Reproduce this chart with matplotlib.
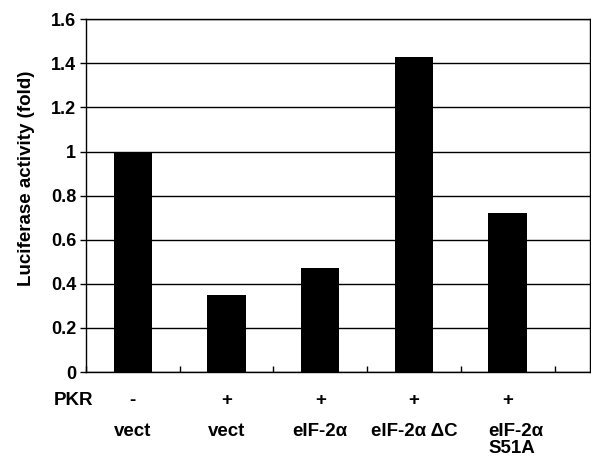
import matplotlib
matplotlib.use("Agg")
import matplotlib.pyplot as plt
from matplotlib.transforms import blended_transform_factory
import numpy as np

plt.rcParams['font.family'] = ['Liberation Sans', 'DejaVu Sans']
plt.rcParams['font.weight'] = 'bold'

pkr_labels = ['-', '+', '+', '+', '+']
construct_labels = ['vect', 'vect', 'eIF-2α', 'eIF-2α ΔC', 'eIF-2α\nS51A']
values = [1.0, 0.35, 0.47, 1.43, 0.72]
yticks = [0, 0.2, 0.4, 0.6, 0.8, 1, 1.2, 1.4, 1.6]
ytick_labels = ['0', '0.2', '0.4', '0.6', '0.8', '1', '1.2', '1.4', '1.6']

bar_width = 0.41

fig = plt.figure(figsize=(5.91, 4.68), dpi=100)
ax = fig.add_axes([0.1455, 0.205, 0.853, 0.754])

x = np.arange(len(values))
ax.set_axisbelow(True)
for yv in yticks:
    ax.axhline(yv, color='black', lw=1.0, zorder=0)
ax.bar(x, values, width=bar_width, color='black', zorder=2)

ax.set_xlim(-0.49, 4.88)
ax.set_ylim(0, 1.6)
ax.set_yticks(yticks)
ax.set_yticklabels(ytick_labels, fontsize=13, fontweight='bold')
ax.tick_params(axis='y', direction='out', length=4, width=1, pad=3)
ax.set_xticks([])
ax.set_xticks(np.arange(len(values) + 1) - 0.5, minor=True)
ax.tick_params(axis='x', which='minor', direction='in', length=4, width=1)
for s in ax.spines.values():
    s.set_linewidth(1.0)
    s.set_color('black')

ax.set_ylabel('Luciferase activity (fold)', fontsize=13.5, fontweight='bold')
ax.yaxis.set_label_coords(-0.101, 0.55)

tr = blended_transform_factory(ax.transData, ax.transAxes)
ax.text(-0.633, -0.082, 'PKR', transform=tr, ha='center', va='center',
        fontsize=13.5, fontweight='bold', clip_on=False)
for xi, lab in zip(x, pkr_labels):
    ax.text(xi, -0.082, lab, transform=tr, ha='center', va='center',
            fontsize=13.5, fontweight='bold', clip_on=False)
for xi, lab in zip(x, construct_labels):
    if '\n' in lab:
        ax.text(xi - bar_width / 2, -0.143, lab, transform=tr, ha='left',
                va='top', multialignment='left', linespacing=1.0,
                fontsize=13.5, fontweight='bold', clip_on=False)
    else:
        ax.text(xi, -0.143, lab, transform=tr, ha='center', va='top',
                fontsize=13.5, fontweight='bold', clip_on=False)

fig.savefig('out.png', dpi=100)
